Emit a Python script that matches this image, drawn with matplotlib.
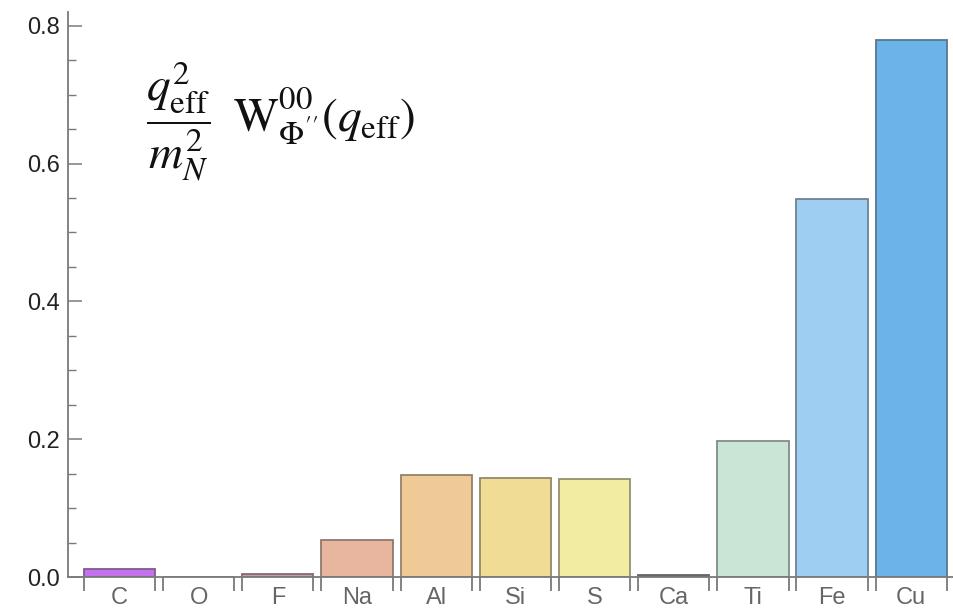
import numpy as np
import matplotlib.pyplot as plt
from matplotlib.colors import to_rgb
from matplotlib.ticker import MultipleLocator

elements = ["C", "O", "F", "Na", "Al", "Si", "S", "Ca", "Ti", "Fe", "Cu"]
values = [0.011, 0.0, 0.004, 0.053, 0.148, 0.144, 0.142, 0.0025, 0.197, 0.548, 0.779]
fills = ["#c272ea", "#d8b0c0", "#c89ca8", "#e8b69e", "#f0ca96", "#f0dc94",
         "#f2eca2", "#8a8a8a", "#cae4d6", "#9ecff2", "#6cb3e9"]

plt.rcParams['font.family'] = ['Liberation Sans', 'DejaVu Sans']
plt.rcParams['mathtext.fontset'] = 'stix'

def edge_of(c):
    # darkened fill pulled toward gray
    r, g, b = to_rgb(c)
    return tuple(0.45 * v + 0.15 for v in (r, g, b))

fig = plt.figure(figsize=(9.54, 6.09), dpi=100)
ax = fig.add_axes([0.0713, 0.0525, 0.9287, 0.928])

x = np.arange(len(elements))
width = 0.9
ax.bar(x, values, width=width, color=fills,
       edgecolor=[edge_of(c) for c in fills], linewidth=1.3)

ax.set_xlim(-0.65, len(elements) - 0.46)

for side in ["top", "right"]:
    ax.spines[side].set_visible(False)
for side in ["left", "bottom"]:
    ax.spines[side].set_color("#7a7a7a")
    ax.spines[side].set_linewidth(1.3)

# y axis ticks
yt = [0.0, 0.2, 0.4, 0.6, 0.8]
ax.set_yticks(yt)
ax.set_yticklabels([f"{v:.1f}" for v in yt])
ax.yaxis.set_minor_locator(MultipleLocator(0.05))
ax.set_ylim(0, 0.82)
ax.tick_params(axis="y", which="major", direction="in", length=10, width=1.1,
               color="#7a7a7a", labelsize=17, labelcolor="#222222", pad=6)
ax.tick_params(axis="y", which="minor", direction="in", length=6, width=1.0,
               color="#7a7a7a")

# x axis: tick marks hanging down at bar edges, labels at bar centres
edges = np.sort(np.concatenate([x - width / 2, x + width / 2]))
ax.set_xticks(edges, minor=True)
ax.set_xticks(x)
ax.set_xticklabels(elements)
ax.tick_params(axis="x", which="major", length=0, labelsize=17,
               labelcolor="#666666", pad=7)
ax.tick_params(axis="x", which="minor", direction="out", length=10, width=1.3,
               color="#7a7a7a")

ax.text(0.088, 0.915,
        r"$\dfrac{q_{\mathrm{eff}}^2}{m_N^2}\;\;\mathrm{W}^{00}_{\Phi''}(q_{\mathrm{eff}})$",
        transform=ax.transAxes, fontsize=34, va="top", ha="left", color="#111111")

fig.savefig("out.png", dpi=100)
